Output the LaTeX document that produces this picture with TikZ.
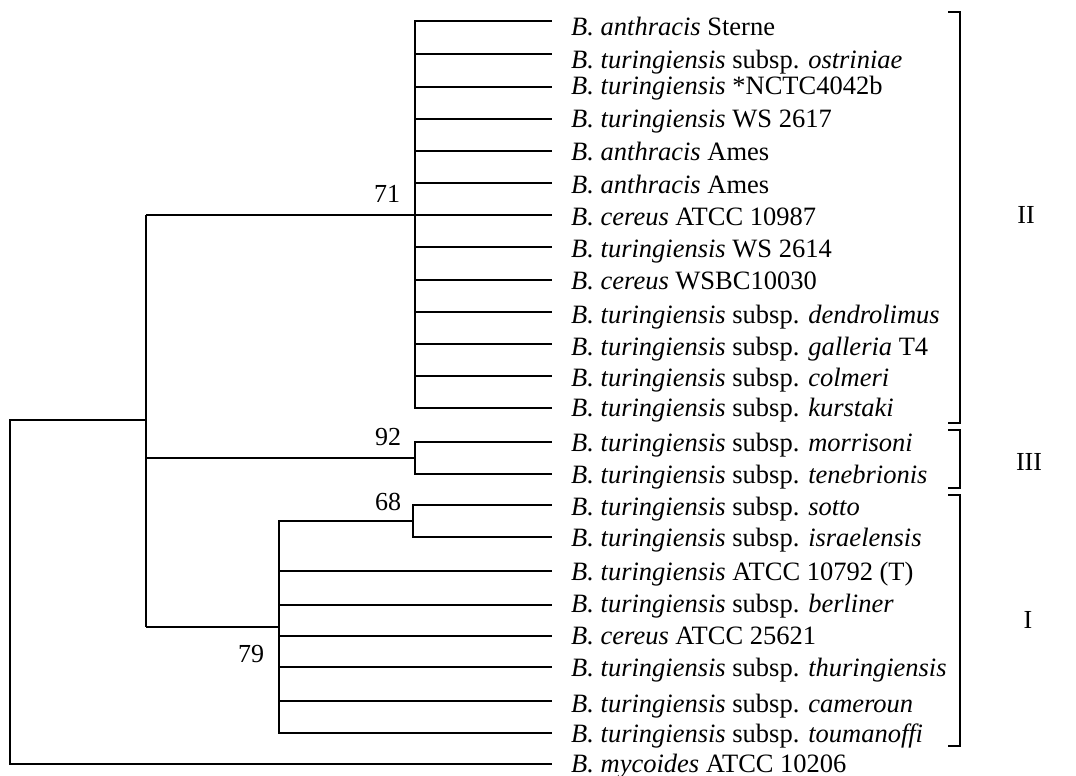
\documentclass[tikz,border=0pt]{standalone}
\usepackage{fontspec}
\setmainfont{Liberation Serif}
\begin{document}
\begin{tikzpicture}[x=1pt,y=-1pt,
  branch/.style={line width=1.1pt, line join=miter},
  leaflab/.style={anchor=base west, inner sep=0pt, font=\fontsize{26.5}{30}\selectfont},
  boot/.style={anchor=center, inner sep=0pt, font=\fontsize{26}{30}\selectfont},
  grp/.style={anchor=center, inner sep=0pt, font=\fontsize{26}{30}\selectfont}]
\useasboundingbox (0,0) rectangle (1076,776);
% internal nodes
\coordinate (root) at (10,420);
\coordinate (nA) at (146,420);
\coordinate (nAt) at (146,215);
\coordinate (nAb) at (146,627);
\coordinate (nAm) at (146,458);
\coordinate (nII) at (415,215);
\coordinate (nIII) at (415,458);
\coordinate (nI) at (279,627);
\coordinate (n68) at (413,521);
\coordinate (nIt) at (279,521);
% leaf ends
\foreach \i/\y in {1/21,2/54,3/87,4/119,5/151,6/183,7/215,8/247,9/280,10/312,11/344,12/376,13/408,14/442,15/474,16/505,17/537,18/571,19/605,20/636,21/667,22/701,23/733,24/764}
  \coordinate (l\i) at (552,\y);
% branches
\draw[branch] (nA) -- (root) |- (l24);
\draw[branch] (nAt) -- (nAb);
\draw[branch] (nAt) -- (nII);
\draw[branch] (nAm) -- (nIII);
\draw[branch] (nAb) -- (nI);
\foreach \i in {1,...,13} \draw[branch] (nII) |- (l\i);
\foreach \i in {14,15} \draw[branch] (nIII) |- (l\i);
\draw[branch] (nI) -- (nIt) -- (n68);
\foreach \i in {16,17} \draw[branch] (n68) |- (l\i);
\foreach \i in {18,...,23} \draw[branch] (nI) |- (l\i);
% bootstrap values
\node[boot] (b71) at (387,194) {71};
\node[boot] (b92) at (388,437) {92};
\node[boot] (b68) at (388,502) {68};
\node[boot] (b79) at (251,654) {79};
% leaf labels
\node[leaflab] (t1) at (571,36) {\textit{B. anthracis} Sterne};
\node[leaflab] (t2) at (571,68) {\textit{B. turingiensis} subsp. \textit{ostriniae}};
\node[leaflab] (t3) at (571,94) {\textit{B. turingiensis} *NCTC4042b};
\node[leaflab] (t4) at (571,127) {\textit{B. turingiensis} WS 2617};
\node[leaflab] (t5) at (571,160) {\textit{B. anthracis} Ames};
\node[leaflab] (t6) at (571,193) {\textit{B. anthracis} Ames};
\node[leaflab] (t7) at (571,225) {\textit{B. cereus} ATCC 10987};
\node[leaflab] (t8) at (571,257) {\textit{B. turingiensis} WS 2614};
\node[leaflab] (t9) at (571,289) {\textit{B. cereus} WSBC10030};
\node[leaflab] (t10) at (571,323) {\textit{B. turingiensis} subsp. \textit{dendrolimus}};
\node[leaflab] (t11) at (571,355) {\textit{B. turingiensis} subsp. \textit{galleria} T4};
\node[leaflab] (t12) at (571,386) {\textit{B. turingiensis} subsp. \textit{colmeri}};
\node[leaflab] (t13) at (571,416) {\textit{B. turingiensis} subsp. \textit{kurstaki}};
\node[leaflab] (t14) at (571,451) {\textit{B. turingiensis} subsp. \textit{morrisoni}};
\node[leaflab] (t15) at (571,483) {\textit{B. turingiensis} subsp. \textit{tenebrionis}};
\node[leaflab] (t16) at (571,515) {\textit{B. turingiensis} subsp. \textit{sotto}};
\node[leaflab] (t17) at (571,546) {\textit{B. turingiensis} subsp. \textit{israelensis}};
\node[leaflab] (t18) at (571,580) {\textit{B. turingiensis} ATCC 10792 (T)};
\node[leaflab] (t19) at (571,612) {\textit{B. turingiensis} subsp. \textit{berliner}};
\node[leaflab] (t20) at (571,644) {\textit{B. cereus} ATCC 25621};
\node[leaflab] (t21) at (571,676) {\textit{B. turingiensis} subsp. \textit{thuringiensis}};
\node[leaflab] (t22) at (571,712) {\textit{B. turingiensis} subsp. \textit{cameroun}};
\node[leaflab] (t23) at (571,742) {\textit{B. turingiensis} subsp. \textit{toumanoffi}};
\node[leaflab] (t24) at (571,772) {\textit{B. mycoides} ATCC 10206};
% group brackets
\coordinate (bIIa) at (948,12); \coordinate (bIIb) at (948,423);
\coordinate (bIIIa) at (948,430); \coordinate (bIIIb) at (948,488);
\coordinate (bIa) at (948,495); \coordinate (bIb) at (948,746);
\draw[branch] (bIIa) -- ++(12,0) |- (bIIb);
\draw[branch] (bIIIa) -- ++(12,0) |- (bIIIb);
\draw[branch] (bIa) -- ++(12,0) |- (bIb);
\node[grp] (gII) at (1026,215) {II};
\node[grp] (gIII) at (1029,462) {III};
\node[grp] (gI) at (1028,620) {I};
\end{tikzpicture}
\end{document}
